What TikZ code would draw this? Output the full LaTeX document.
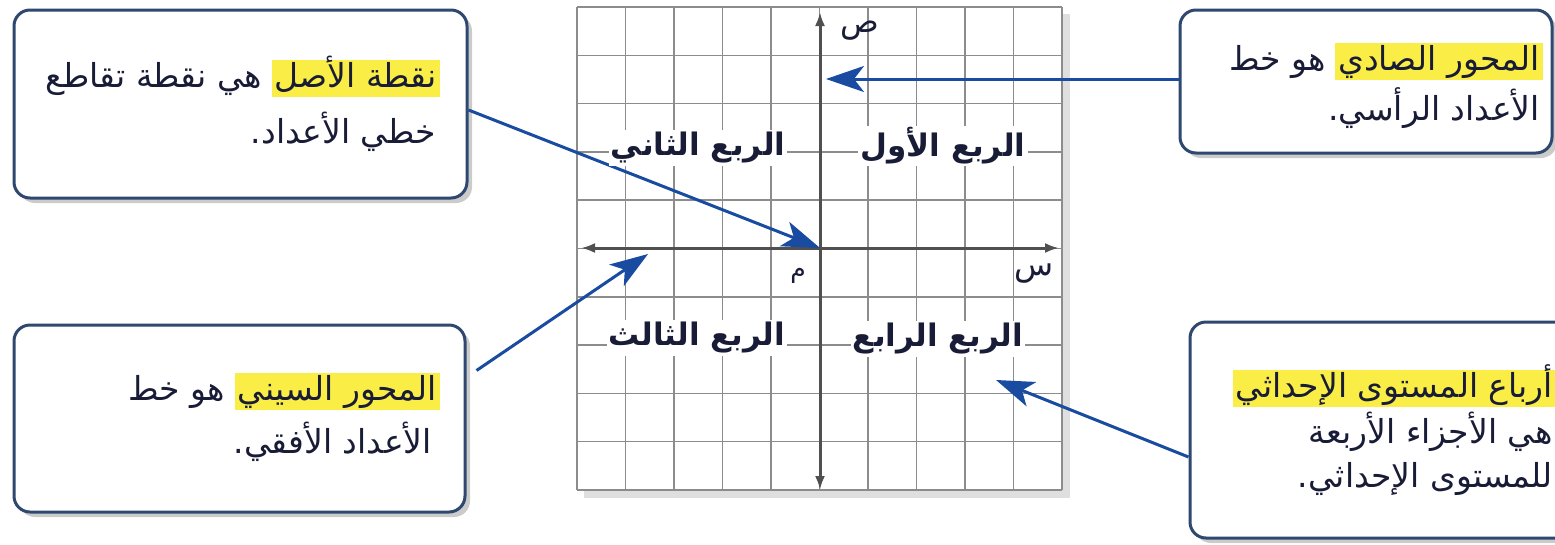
\documentclass[tikz,border=0pt]{standalone}
\usepackage{fontspec}
\usetikzlibrary{arrows.meta,shadows,calc}
\TeXXeTstate=1
\newfontfamily\arabicfont[Script=Arabic]{DejaVu Sans}
\definecolor{hly}{RGB}{250,238,70}
\definecolor{boxborder}{RGB}{46,72,112}
\definecolor{arrowblue}{RGB}{25,75,160}
\definecolor{gridgray}{RGB}{140,140,140}
\definecolor{axisgray}{RGB}{80,80,80}
\definecolor{txt}{RGB}{25,28,55}
\tikzset{
  gridline/.style={draw=gridgray, line width=1.5pt},
  axisline/.style={draw=axisgray, line width=3pt, {Latex[length=14pt,width=10pt]}-{Latex[length=14pt,width=10pt]}},
  callout/.style={draw=boxborder, line width=3pt, fill=white, rounded corners=16pt,
     drop shadow={shadow xshift=5pt, shadow yshift=-5pt, fill=black!45, opacity=0.45}},
  pointer/.style={draw=arrowblue, line width=3pt, -{Stealth[length=38pt,width=26pt,inset=10pt]}},
  quadlabel/.style={fill=white, inner sep=2pt, text=txt, font=\arabicfont\bfseries\fontsize{31}{36}\selectfont},
  boxtext/.style={anchor=base east, inner sep=0pt, text=txt, font=\arabicfont\fontsize{33}{40}\selectfont},
  hltext/.style={boxtext, fill=hly, inner xsep=3pt, inner ysep=0pt, text height=27pt, text depth=10pt},
  axislabel/.style={text=txt, inner sep=0pt, font=\arabicfont\fontsize{32}{36}\selectfont}
}
\begin{document}
\begin{tikzpicture}[x=1pt,y=-1pt]
\useasboundingbox (0,0) rectangle (1555,544);
% grid shadow
\fill[black!25, opacity=0.5] (584,14) rectangle (1070,498);
\fill[white] (577,7) rectangle (1062,490);
\foreach \i in {0,...,10} \draw[gridline] ({577+48.5*\i},7) -- ({577+48.5*\i},490);
\foreach \j in {0,...,10} \draw[gridline] (577,{7+48.3*\j}) -- (1062,{7+48.3*\j});
% axes
\coordinate (O) at (820,248);
\coordinate (xl) at (581,248);
\coordinate (xr) at (1059,248);
\coordinate (yt) at (820,12);
\coordinate (yb) at (820,490);
\draw[axisline] (xl) -- (xr);
\draw[axisline] (yb) -- (yt);
\node[axislabel] (ylab) at (860,31) {\beginR ص\endR};
\node[axislabel] (xlab) at (1034,274) {\beginR س\endR};
\node[axislabel, font=\arabicfont\fontsize{25}{28}\selectfont] (olab) at (798,276) {\beginR م\endR};
% callout boxes
\node[callout, minimum width=453pt, minimum height=188pt] (b1) at (240.5,104) {};
\node[callout, minimum width=372pt, minimum height=143pt] (b2) at (1366,81.5) {};
\node[callout, minimum width=451pt, minimum height=187pt] (b3) at (239.5,418.5) {};
\node[callout, minimum width=390pt, minimum height=216pt] (b4) at (1385,430) {};
% texts
\node[hltext] (h1) at (440,87) {\beginR نقطة الأصل\endR};
\node[boxtext] (t11) at ([xshift=-9pt]h1.base west) {\beginR هي نقطة تقاطع\endR};
\node[boxtext] (t12) at (436,143) {\beginR خطي الأعداد.\endR};
\node[hltext] (h2) at (1543,70) {\beginR المحور الصادي\endR};
\node[boxtext] (t21) at ([xshift=-9pt]h2.base west) {\beginR هو خط\endR};
\node[boxtext] (t22) at (1540,120) {\beginR الأعداد الرأسي.\endR};
\node[hltext] (h3) at (440,400) {\beginR المحور السيني\endR};
\node[boxtext] (t31) at ([xshift=-9pt]h3.base west) {\beginR هو خط\endR};
\node[boxtext] (t32) at (432,453) {\beginR الأعداد الأفقي.\endR};
\node[hltext] (h4) at (1556,397) {\beginR أرباع المستوى الإحداثي\endR};
\node[boxtext] (t42) at (1553,443) {\beginR هي الأجزاء الأربعة\endR};
\node[boxtext] (t43) at (1553,487) {\beginR للمستوى الإحداثي.\endR};
% pointers
\coordinate (p2) at (826,79);
\coordinate (p3) at (648,254);
\coordinate (p4) at (996,380);
\draw[pointer] ([yshift=-6pt]b1.east) -- (O);
\draw[pointer] ([yshift=2.5pt]b2.west) -- (p2);
\draw[pointer] ([yshift=48pt,xshift=10pt]b3.east) -- (p3);
\draw[pointer] ([yshift=-27pt]b4.west) -- (p4);
% quadrant labels
\node[quadlabel] (q2) at (698,148) {\beginR الربع الثاني\endR};
\node[quadlabel] (q1) at (943,146) {\beginR الربع الأول\endR};
\node[quadlabel] (q3) at (697,338) {\beginR الربع الثالث\endR};
\node[quadlabel] (q4) at (938,339) {\beginR الربع الرابع\endR};
\end{tikzpicture}
\end{document}
